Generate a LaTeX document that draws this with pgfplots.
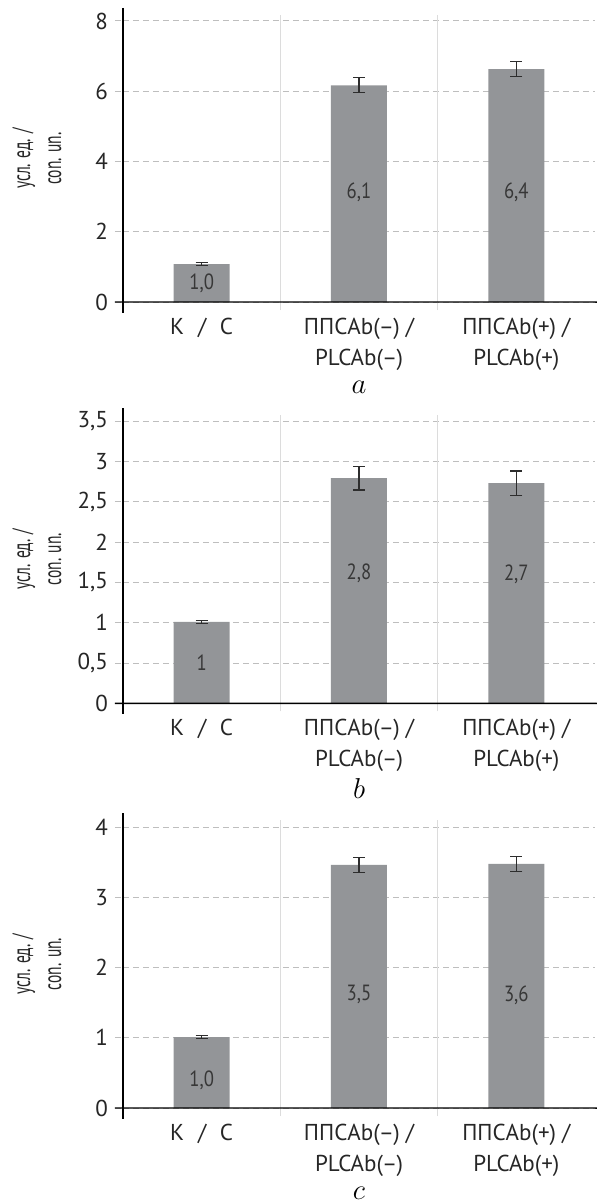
\documentclass[border=0pt]{standalone}
\usepackage{fontspec}
\setmainfont{PT Sans}
\newfontfamily\condfont[FakeStretch=0.85]{PT Sans}
\newfontfamily\ylabfont[FakeStretch=0.62]{PT Sans}
\usepackage{pgfplots}
\pgfplotsset{compat=1.18}
\usepackage{pgfplotstable}

\definecolor{barc}{RGB}{147,149,152}
\definecolor{labc}{RGB}{55,55,55}
\definecolor{gridc}{RGB}{190,190,190}
\definecolor{sepc}{RGB}{220,220,220}
\definecolor{errc}{RGB}{45,45,45}

\pgfplotstableread{
x y err ly lab
0 1.08 0.05 0.54 {1,0}
1 6.17 0.21 3.13 {6,1}
2 6.63 0.21 3.13 {6,4}
}\dataA
\pgfplotstableread{
x y err ly lab
0 1.01 0.02 0.50 {1}
1 2.795 0.145 1.62 {2,8}
2 2.735 0.15 1.60 {2,7}
}\dataB
\pgfplotstableread{
x y err ly lab
0 1.01 0.02 0.40 {1,0}
1 3.46 0.11 1.61 {3,5}
2 3.475 0.105 1.61 {3,6}
}\dataC

\pgfplotsset{
  panel/.style={
    scale only axis, width=236pt,
    xmin=-0.5, xmax=2.5, ymin=0,
    xtick={0,1,2},
    xticklabels={{К\hspace{1.2ex}/\hspace{1.2ex}С},{ППСAb(–) /\\PLCAb(–)},{ППСAb(+) /\\PLCAb(+)}},
    xticklabel style={align=center, font=\fontsize{11.5}{15.5}\selectfont, text=black!85, yshift=-0.5pt},
    x tick style={draw=none},
    y tick style={draw=gridc, dash pattern=on 3pt off 2pt, line width=0.5pt},
    major tick length=4pt,
    tick align=outside,
    ymajorgrids,
    major grid style={draw=gridc, dash pattern=on 3pt off 2pt, line width=0.5pt},
    axis line style={draw=none},
    clip=false,
    yticklabel style={font=\fontsize{11.5}{12}\selectfont, text=black!85},
    /pgf/number format/use comma,
    /pgf/number format/assume math mode=true,
  },
  bars/.style={ybar, bar width=28pt, fill=barc, draw=none,
    error bars/.cd, y dir=both, y explicit,
    error bar style={line width=0.6pt, color=errc},
    error mark options={line width=0.6pt, mark size=3pt, color=errc, rotate=90}},
  blabels/.style={draw=none, mark=none, nodes near coords, point meta=explicit symbolic,
    every node near coord/.append style={anchor=center, font=\condfont\fontsize{11}{12}\selectfont, text=labc}},
}

\newcommand{\decor}[1]{%
  \draw[sepc, line width=0.8pt] ([yshift=-4pt]axis cs:0.5,0) -- ({axis cs:0.5,0}|-{rel axis cs:0,1});
  \draw[sepc, line width=0.8pt] ([yshift=-4pt]axis cs:1.5,0) -- ({axis cs:1.5,0}|-{rel axis cs:0,1});
  \draw[black, line width=0.7pt] ([xshift=-4pt]rel axis cs:0,0) -- (rel axis cs:1,0) -- ++(0,-3.5pt);
  \draw[black, line width=0.7pt] ([yshift=3.5pt]rel axis cs:0,1) -- ([yshift=-5.5pt]rel axis cs:0,0);
  \node[rotate=90, align=center, font=\ylabfont\fontsize{12.5}{15.5}\selectfont, text=black!85] at ([xshift=-43pt]rel axis cs:0,0.5) {усл. ед. /\\con. un.};
  \node[inner sep=0pt, font=\fontsize{15}{16}\selectfont] at ([yshift=-42.5pt]rel axis cs:0.5,0) {$#1$};
}

\begin{document}
\begin{tikzpicture}
\useasboundingbox (-61.5pt,-449pt) rectangle (236.5pt,151pt);

\begin{axis}[panel, at={(0pt,0pt)}, anchor=south west, height=143.5pt, ymax=8.17, ytick={0,2,4,6,8}]
\addplot[bars] table[x=x, y=y, y error=err] {\dataA};
\addplot[blabels] table[x=x, y=ly, meta=lab] {\dataA};
\decor{a}
\end{axis}

\begin{axis}[panel, at={(0pt,-200.65pt)}, anchor=south west, height=144.15pt, ymax=3.58, ytick={0,0.5,1,1.5,2,2.5,3,3.5}]
\addplot[bars] table[x=x, y=y, y error=err] {\dataB};
\addplot[blabels] table[x=x, y=ly, meta=lab] {\dataB};
\decor{b}
\end{axis}

\begin{axis}[panel, at={(0pt,-403pt)}, anchor=south west, height=144pt, ymax=4.10, ytick={0,1,2,3,4}]
\addplot[bars] table[x=x, y=y, y error=err] {\dataC};
\addplot[blabels] table[x=x, y=ly, meta=lab] {\dataC};
\decor{c}
\end{axis}
\end{tikzpicture}
\end{document}
